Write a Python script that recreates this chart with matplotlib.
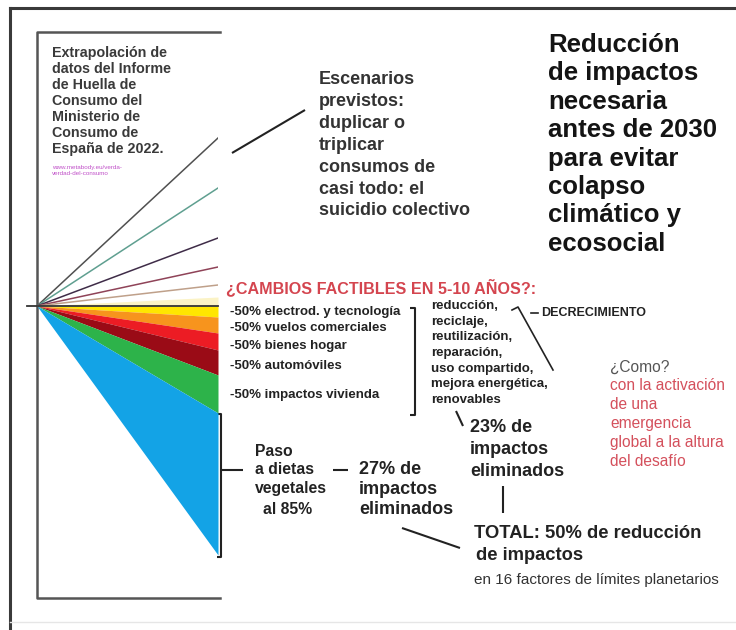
import matplotlib.pyplot as plt

plt.rcParams['font.family'] = ['Liberation Sans', 'DejaVu Sans']

# fan chart data (index points, baseline = 0 at 2022)
years = [2022, 2030]
scenario_ends = [168, 118, 68, 39, 21]
scenario_colors = ['#505050', '#5f9f90', '#3f2c48', '#8f4358', '#bfa08a']
pale_band = 9
cut_labels = ['electrod. y tecnología', 'vuelos comerciales', 'bienes hogar',
              'automóviles', 'vivienda', 'dietas vegetales']
cut_values = [11, 16, 17, 25, 38, 142]
cut_colors = ['#ffe600', '#f7941d', '#ec1c24', '#9a0b16', '#2db34a', '#13a3e6']

title_lines = ['Reducción', 'de impactos', 'necesaria', 'antes de 2030',
               'para evitar', 'colapso', 'climático y', 'ecosocial']
scenario_text = ['Escenarios', 'previstos:', 'duplicar o', 'triplicar',
                 'consumos de', 'casi todo: el', 'suicidio colectivo']
source_text = ['Extrapolación de', 'datos del Informe', 'de Huella de',
               'Consumo del', 'Ministerio de', 'Consumo de', 'España de 2022.']
source_url = ['www.metabody.eu/verda-', 'verdad-del-consumo']
list_items = ['-50% electrod. y tecnología', '-50% vuelos comerciales',
              '-50% bienes hogar', '-50% automóviles', '-50% impactos vivienda']
list_y = [312, 328, 346, 366, 395]
actions = ['reducción,', 'reciclaje,', 'reutilización,', 'reparación,',
           'uso compartido,', 'mejora energética,', 'renovables']
como_lines = ['con la activación', 'de una', 'emergencia',
              'global a la altura', 'del desafío']

fig = plt.figure(figsize=(7.36, 6.30), dpi=100)
bg = fig.add_axes([0, 0, 1, 1])
bg.set_xlim(0, 736)
bg.set_ylim(630, 0)
bg.axis('off')

fan = fig.add_axes([37 / 736, 1 - 560 / 630, (218 - 37) / 736, 430 / 630])
fan.set_xlim(2022, 2030)
fan.set_ylim(-254, 176)
fan.axis('off')

fan.fill_between(years, [0, 0], [0, pale_band], color='#fbf3c6', lw=0)
for end, c in zip(scenario_ends, scenario_colors):
    fan.plot(years, [0, end], color=c, lw=1.1)
prev = 0
for v, c in zip(cut_values, cut_colors):
    fan.fill_between(years, [0, -prev], [0, -(prev + v)], color=c, lw=0)
    prev += v
fan.plot([2021.55, 2030], [0, 0], color='#333333', lw=1.3, clip_on=False)


def block(lines, x, y0, step, **kw):
    for i, s in enumerate(lines):
        bg.text(x, y0 + i * step, s, va='center', ha='left', **kw)


# frames
bg.plot([10, 10], [8, 630], color='#3a3a3a', lw=2.2)
bg.plot([10, 736], [8, 8], color='#3a3a3a', lw=2.2)
bg.plot([10, 736], [622, 622], color='#e6e6e6', lw=1)
bg.plot([220, 37, 37, 220], [32, 32, 598, 598], color='#555555', lw=1.8)

# texts
block(title_lines, 548, 45, 28.4, fontsize=18.5, fontweight='bold', color='#141414')
block(scenario_text, 319, 80, 21.8, fontsize=13, fontweight='bold', color='#333333')
block(source_text, 52, 53, 16, fontsize=10.3, fontweight='bold', color='#3a3a3a')
block(source_url, 52, 167, 6.5, fontsize=4.5, color='#c050c8')

bg.text(226, 287, '¿CAMBIOS FACTIBLES EN 5-10 AÑOS?:', fontsize=11.6,
        fontweight='bold', color='#d4454f', va='center')
for s, y in zip(list_items, list_y):
    bg.text(230, y, s, fontsize=9.5, fontweight='bold', color='#222222', va='center')
block(actions, 431, 306, 15.7, fontsize=9.5, fontweight='bold', color='#222222')
bg.text(541, 313, 'DECRECIMIENTO', fontsize=9, fontweight='bold',
        color='#222222', va='center')

bg.text(610, 367, '¿Como?', fontsize=11.2, color='#555555', va='center')
block(como_lines, 610, 386, 18.8, fontsize=11.2, color='#d4505c')

block(['23% de', 'impactos', 'eliminados'], 470, 428, 22, fontsize=13,
      fontweight='bold', color='#222222')
block(['27% de', 'impactos', 'eliminados'], 359, 469, 20.5, fontsize=13,
      fontweight='bold', color='#222222')
bg.text(255, 452, 'Paso', fontsize=11.3, fontweight='bold', color='#222222', va='center')
bg.text(255, 470, 'a dietas', fontsize=11.3, fontweight='bold', color='#222222', va='center')
bg.text(255, 489, 'vegetales', fontsize=11.3, fontweight='bold', color='#222222', va='center')
bg.text(263, 509, 'al 85%', fontsize=11.3, fontweight='bold', color='#222222', va='center')

bg.text(474, 533, 'TOTAL: 50% de reducción', fontsize=13.2, fontweight='bold',
        color='#222222', va='center')
bg.text(476, 555, 'de impactos', fontsize=13.2, fontweight='bold',
        color='#222222', va='center')
bg.text(474, 580, 'en 16 factores de límites planetarios', fontsize=11,
        color='#333333', va='center')

# connectors and brackets
k = dict(color='#222222', lw=1.5, solid_capstyle='butt')
bg.plot([232, 305], [153, 110], **k)
bg.plot([410, 415, 415, 410], [308, 308, 415, 415], **k)
bg.plot([217, 221, 221, 217], [414, 414, 557, 557], **k)
bg.plot([221, 243], [470, 470], **k)
bg.plot([333, 348], [470, 470], **k)
bg.plot([402, 460], [528, 548], **k)
bg.plot([503, 503], [486, 513], **k)
bg.plot([456, 463], [411, 426], **k)
bg.plot([512, 518, 553], [310, 307, 370], color='#222222', lw=1.2)
bg.plot([531, 538], [313, 313], color='#222222', lw=1.2)

fig.savefig('out.png', dpi=100)
